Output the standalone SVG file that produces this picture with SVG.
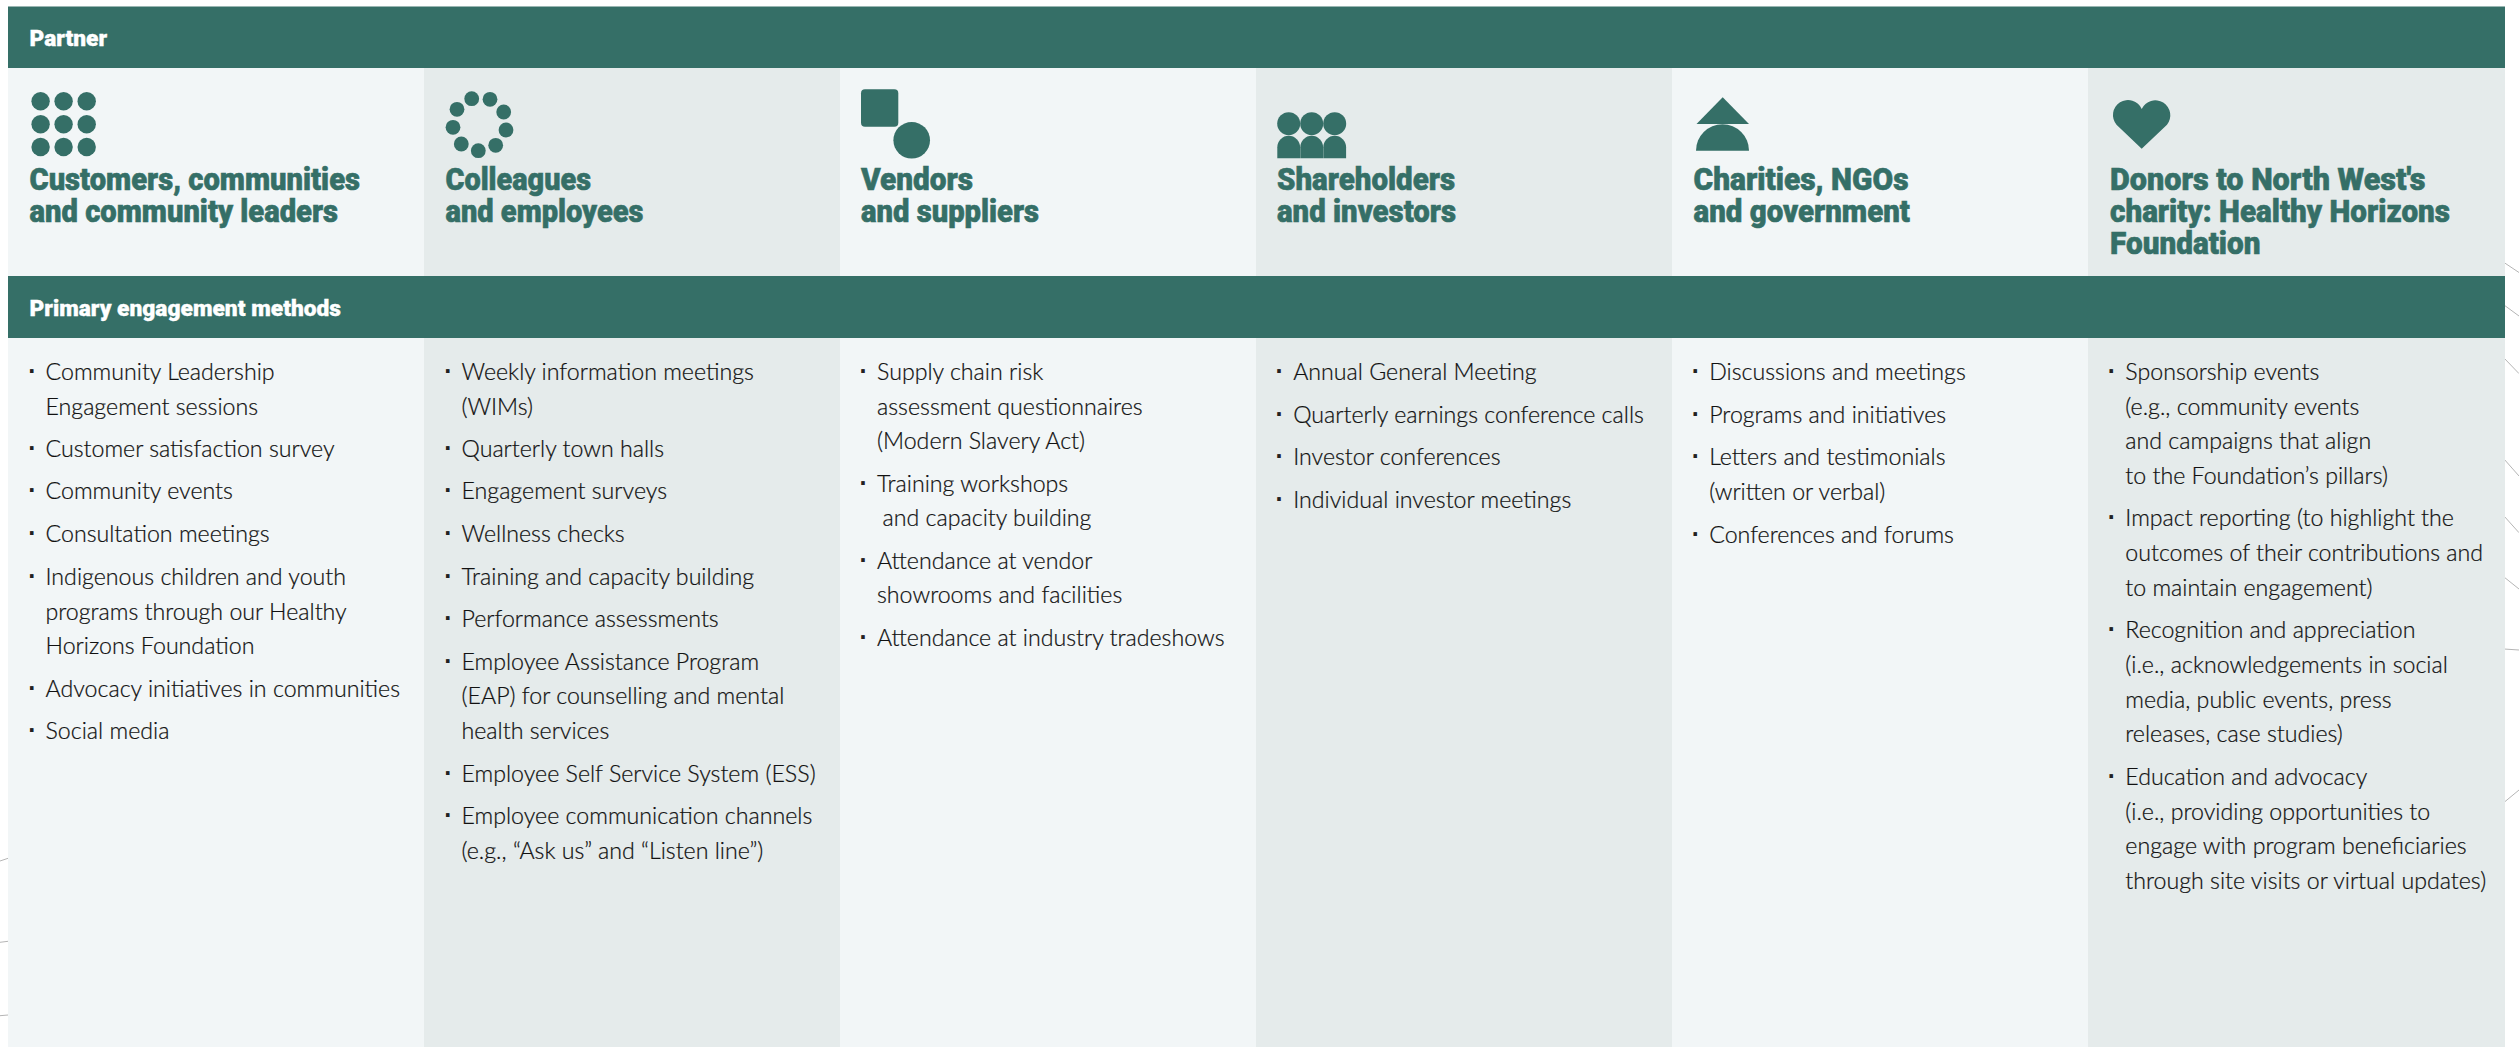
<svg xmlns="http://www.w3.org/2000/svg" width="2519" height="1047" viewBox="0 0 2519 1047">
<style>
.bar{fill:#356f67}
.a{fill:#f2f6f7}
.b{fill:#e5ebeb}
.ic{fill:#356f67}
.bh{font-family:"Roboto","Liberation Sans",sans-serif;font-weight:900;font-size:22px;fill:#fff;stroke:#fff;stroke-width:.35px}
.h{font-family:"Roboto","Liberation Sans",sans-serif;font-weight:900;font-size:31.5px;fill:#356f67;stroke:#356f67;stroke-width:.6px}
.t{font-family:"Lato","Liberation Sans",sans-serif;font-weight:300;font-size:23.2px;fill:#111;stroke:#111;stroke-width:.22px}
.d{font-family:"Liberation Sans",sans-serif;font-weight:700;font-size:25px;fill:#222;text-anchor:middle}
.c{fill:none;stroke:#b5b5b5;stroke-width:1}
</style>
<rect width="2519" height="1047" fill="#fff"/>
<g id="connectors">
<path class="c" d="M0 861L8 858.3M0 942.3L8 941.3M0 1015.7L8 1015M2504 262.5L2519 272.5M2504 305L2519 316M2504 358L2519 373.6M2504 459L2519 476M2504 516L2519 532.7M2504 577L2519 589M2504 649L2519 650M2504 802.4L2519 790"/>
</g>
<g id="col-customers">
<rect class="a" x="8" y="68" width="416" height="979"/>
<g class="ic"><circle cx="40.6" cy="101.3" r="9.2"/><circle cx="63.6" cy="101.3" r="9.2"/><circle cx="86.7" cy="101.3" r="9.2"/><circle cx="40.6" cy="124.3" r="9.2"/><circle cx="63.6" cy="124.3" r="9.2"/><circle cx="86.7" cy="124.3" r="9.2"/><circle cx="40.6" cy="147" r="9.2"/><circle cx="63.6" cy="147" r="9.2"/><circle cx="86.7" cy="147" r="9.2"/></g>
<text class="h" x="29.5" y="190" textLength="330.5" lengthAdjust="spacingAndGlyphs">Customers, communities</text>
<text class="h" x="29.5" y="222" textLength="308.5" lengthAdjust="spacingAndGlyphs">and community leaders</text>
<text class="d" x="32.4" y="380">·</text><text class="t" x="45.5" y="380">Community Leadership</text>
<text class="t" x="45.5" y="414.5">Engagement sessions</text>
<text class="d" x="32.4" y="456.5">·</text><text class="t" x="45.5" y="456.5">Customer satisfaction survey</text>
<text class="d" x="32.4" y="499">·</text><text class="t" x="45.5" y="499">Community events</text>
<text class="d" x="32.4" y="542">·</text><text class="t" x="45.5" y="542">Consultation meetings</text>
<text class="d" x="32.4" y="584.5">·</text><text class="t" x="45.5" y="584.5">Indigenous children and youth</text>
<text class="t" x="45.5" y="619.5">programs through our Healthy</text>
<text class="t" x="45.5" y="654">Horizons Foundation</text>
<text class="d" x="32.4" y="696.5">·</text><text class="t" x="45.5" y="696.5">Advocacy initiatives in communities</text>
<text class="d" x="32.4" y="739">·</text><text class="t" x="45.5" y="739">Social media</text>
</g>
<g id="col-colleagues">
<rect class="b" x="424" y="68" width="416" height="979"/>
<g class="ic"><circle cx="471.7" cy="98.7" r="7.4"/><circle cx="490" cy="99.3" r="7.4"/><circle cx="503.7" cy="112" r="7.4"/><circle cx="506" cy="130" r="7.4"/><circle cx="495.7" cy="145.3" r="7.4"/><circle cx="478.3" cy="150.7" r="7.4"/><circle cx="461.3" cy="144" r="7.4"/><circle cx="453" cy="127.3" r="7.4"/><circle cx="457" cy="109.3" r="7.4"/></g>
<text class="h" x="445.5" y="190" textLength="145.5" lengthAdjust="spacingAndGlyphs">Colleagues</text>
<text class="h" x="445.5" y="222" textLength="198" lengthAdjust="spacingAndGlyphs">and employees</text>
<text class="d" x="448.4" y="380">·</text><text class="t" x="461.5" y="380">Weekly information meetings</text>
<text class="t" x="461.5" y="414.5">(WIMs)</text>
<text class="d" x="448.4" y="456.5">·</text><text class="t" x="461.5" y="456.5">Quarterly town halls</text>
<text class="d" x="448.4" y="499">·</text><text class="t" x="461.5" y="499">Engagement surveys</text>
<text class="d" x="448.4" y="542">·</text><text class="t" x="461.5" y="542">Wellness checks</text>
<text class="d" x="448.4" y="584.5">·</text><text class="t" x="461.5" y="584.5">Training and capacity building</text>
<text class="d" x="448.4" y="627">·</text><text class="t" x="461.5" y="627">Performance assessments</text>
<text class="d" x="448.4" y="670">·</text><text class="t" x="461.5" y="670">Employee Assistance Program</text>
<text class="t" x="461.5" y="704">(EAP) for counselling and mental</text>
<text class="t" x="461.5" y="739">health services</text>
<text class="d" x="448.4" y="782">·</text><text class="t" x="461.5" y="782">Employee Self Service System (ESS)</text>
<text class="d" x="448.4" y="824">·</text><text class="t" x="461.5" y="824">Employee communication channels</text>
<text class="t" x="461.5" y="859">(e.g., “Ask us” and “Listen line”)</text>
</g>
<g id="col-vendors">
<rect class="a" x="840" y="68" width="416" height="979"/>
<g class="ic"><rect x="861" y="89.3" width="37.3" height="37.4" rx="4"/><circle cx="911.7" cy="140.3" r="18.3"/></g>
<text class="h" x="861" y="190" textLength="112" lengthAdjust="spacingAndGlyphs">Vendors</text>
<text class="h" x="861" y="222" textLength="178" lengthAdjust="spacingAndGlyphs">and suppliers</text>
<text class="d" x="863.6" y="380">·</text><text class="t" x="877" y="380">Supply chain risk</text>
<text class="t" x="877" y="414.5">assessment questionnaires</text>
<text class="t" x="877" y="449">(Modern Slavery Act)</text>
<text class="d" x="863.6" y="492">·</text><text class="t" x="877" y="492">Training workshops</text>
<text class="t" x="882.5" y="526">and capacity building</text>
<text class="d" x="863.6" y="569">·</text><text class="t" x="877" y="569">Attendance at vendor</text>
<text class="t" x="877" y="603">showrooms and facilities</text>
<text class="d" x="863.6" y="646">·</text><text class="t" x="877" y="646">Attendance at industry tradeshows</text>
</g>
<g id="col-shareholders">
<rect class="b" x="1256" y="68" width="416" height="979"/>
<g class="ic"><circle cx="1288.7" cy="123.7" r="11.5"/><circle cx="1311.7" cy="123.7" r="11.5"/><circle cx="1334.7" cy="123.7" r="11.5"/><path d="M1277.3 158.3V147.2a11.4 11.4 0 0 1 22.8 0V158.3Z"/><path d="M1300.3 158.3V147.2a11.4 11.4 0 0 1 22.8 0V158.3Z"/><path d="M1323.3 158.3V147.2a11.4 11.4 0 0 1 22.8 0V158.3Z"/></g>
<text class="h" x="1277" y="190" textLength="178" lengthAdjust="spacingAndGlyphs">Shareholders</text>
<text class="h" x="1277" y="222" textLength="179" lengthAdjust="spacingAndGlyphs">and investors</text>
<text class="d" x="1279.6" y="380">·</text><text class="t" x="1293.2" y="380">Annual General Meeting</text>
<text class="d" x="1279.6" y="423">·</text><text class="t" x="1293.2" y="423">Quarterly earnings conference calls</text>
<text class="d" x="1279.6" y="465">·</text><text class="t" x="1293.2" y="465">Investor conferences</text>
<text class="d" x="1279.6" y="508">·</text><text class="t" x="1293.2" y="508">Individual investor meetings</text>
</g>
<g id="col-charities">
<rect class="a" x="1672" y="68" width="416" height="979"/>
<g class="ic"><path d="M1722.7 97.3L1749 124H1696.5Z"/><path d="M1696 150.7a26.5 26.4 0 0 1 53 0Z"/></g>
<text class="h" x="1693.5" y="190" textLength="215" lengthAdjust="spacingAndGlyphs">Charities, NGOs</text>
<text class="h" x="1693.5" y="222" textLength="216.5" lengthAdjust="spacingAndGlyphs">and government</text>
<text class="d" x="1696" y="380">·</text><text class="t" x="1709.2" y="380">Discussions and meetings</text>
<text class="d" x="1696" y="423">·</text><text class="t" x="1709.2" y="423">Programs and initiatives</text>
<text class="d" x="1696" y="465">·</text><text class="t" x="1709.2" y="465">Letters and testimonials</text>
<text class="t" x="1709.2" y="500">(written or verbal)</text>
<text class="d" x="1696" y="543">·</text><text class="t" x="1709.2" y="543">Conferences and forums</text>
</g>
<g id="col-donors">
<rect class="b" x="2088" y="68" width="417" height="979"/>
<path class="ic" d="M2141.7 148.7L2116.5 124.7A15 15 0 1 1 2141.7 109A15 15 0 1 1 2167 124.7Z"/>
<text class="h" x="2110" y="190" textLength="315.5" lengthAdjust="spacingAndGlyphs">Donors to North West's</text>
<text class="h" x="2110" y="222" textLength="340" lengthAdjust="spacingAndGlyphs">charity: Healthy Horizons</text>
<text class="h" x="2110" y="254" textLength="150.5" lengthAdjust="spacingAndGlyphs">Foundation</text>
<text class="d" x="2112" y="380">·</text><text class="t" x="2125.3" y="380">Sponsorship events</text>
<text class="t" x="2125.3" y="414.5">(e.g., community events</text>
<text class="t" x="2125.3" y="449">and campaigns that align</text>
<text class="t" x="2125.3" y="484">to the Foundation’s pillars)</text>
<text class="d" x="2112" y="526">·</text><text class="t" x="2125.3" y="526">Impact reporting (to highlight the</text>
<text class="t" x="2125.3" y="561">outcomes of their contributions and</text>
<text class="t" x="2125.3" y="595.5">to maintain engagement)</text>
<text class="d" x="2112" y="638">·</text><text class="t" x="2125.3" y="638">Recognition and appreciation</text>
<text class="t" x="2125.3" y="673">(i.e., acknowledgements in social</text>
<text class="t" x="2125.3" y="707.5">media, public events, press</text>
<text class="t" x="2125.3" y="742">releases, case studies)</text>
<text class="d" x="2112" y="785">·</text><text class="t" x="2125.3" y="785">Education and advocacy</text>
<text class="t" x="2125.3" y="819.5">(i.e., providing opportunities to</text>
<text class="t" x="2125.3" y="854">engage with program beneficiaries</text>
<text class="t" x="2125.3" y="888.7">through site visits or virtual updates)</text>
</g>
<g id="bar-partner">
<rect class="bar" x="8" y="6.5" width="2497" height="61.5"/>
<text class="bh" x="29.5" y="46" textLength="77.5" lengthAdjust="spacingAndGlyphs">Partner</text>
</g>
<g id="bar-methods">
<rect class="bar" x="8" y="276" width="2497" height="62"/>
<text class="bh" x="29.5" y="316" textLength="311.5" lengthAdjust="spacingAndGlyphs">Primary engagement methods</text>
</g>
</svg>
